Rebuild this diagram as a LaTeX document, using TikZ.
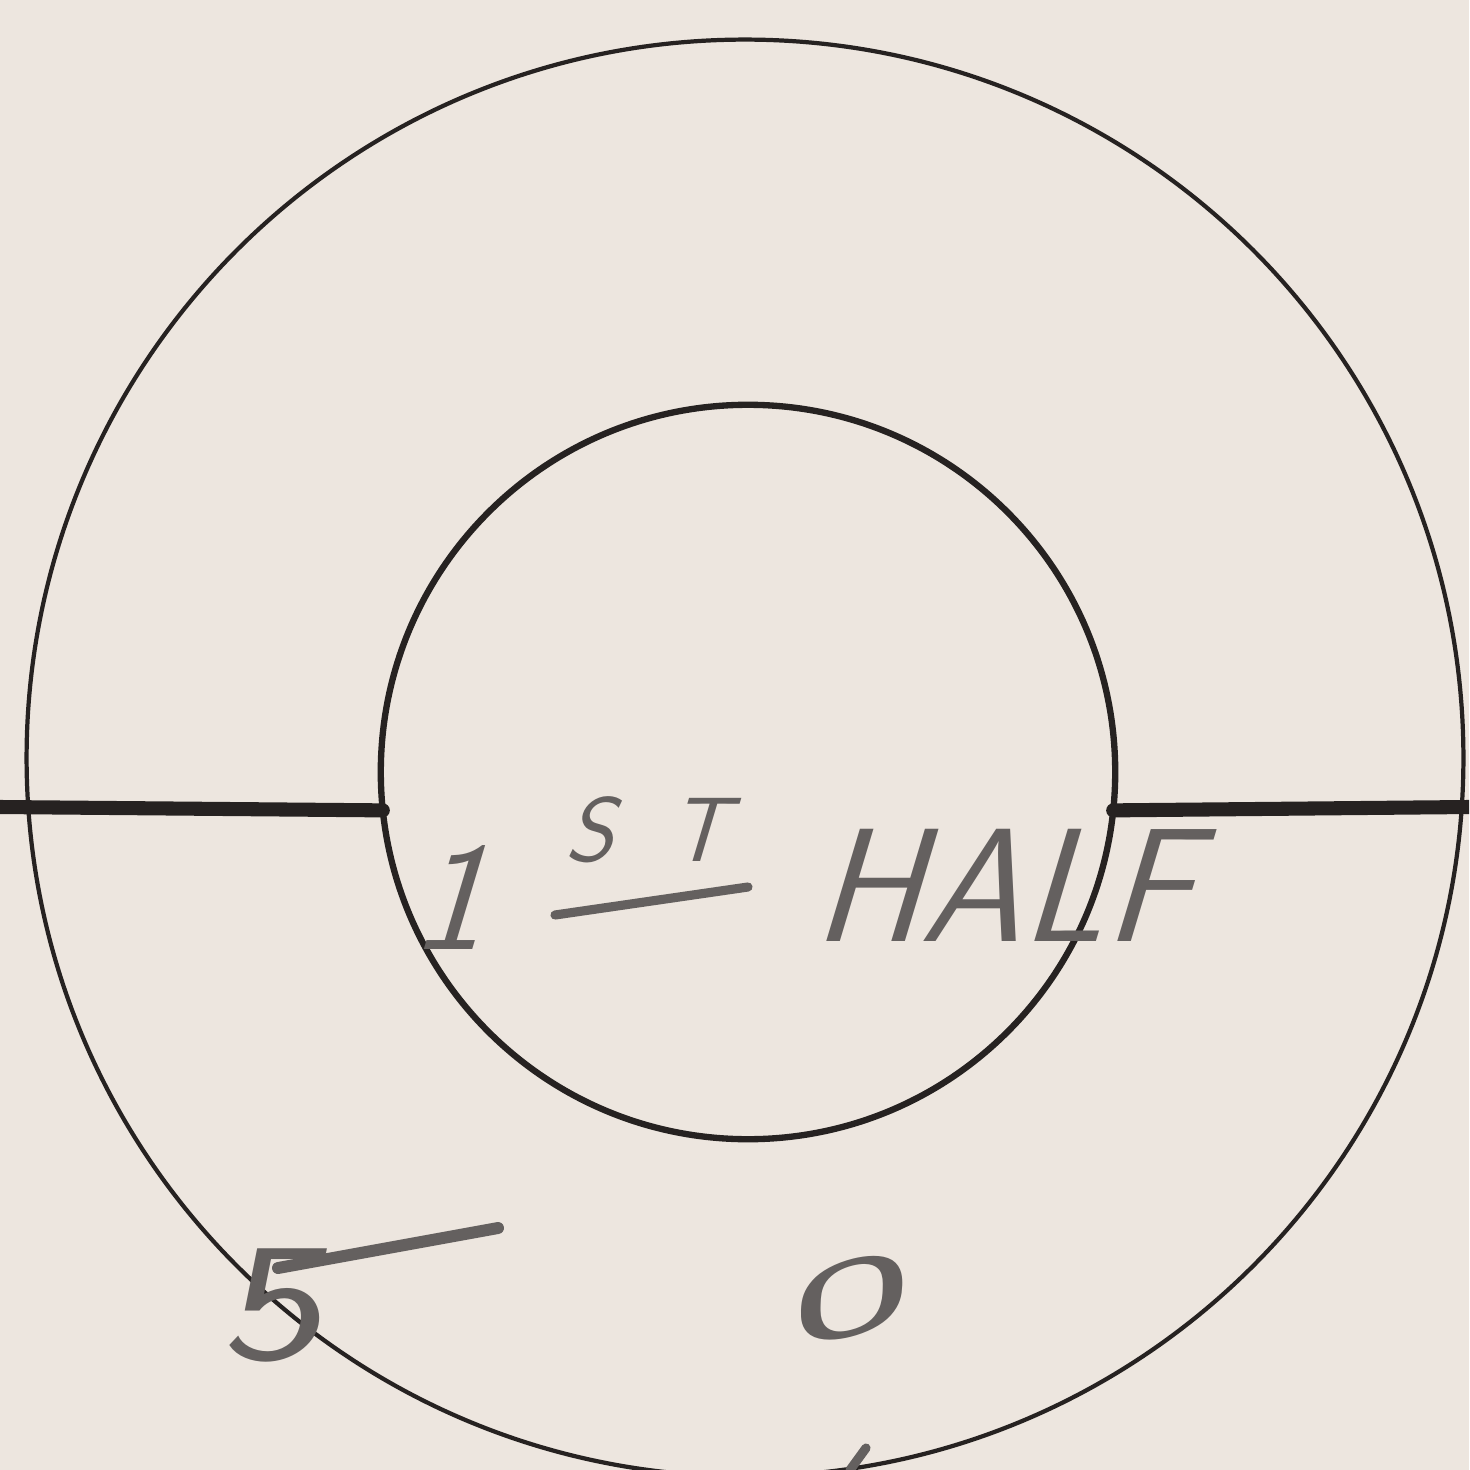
\documentclass[tikz,border=0pt]{standalone}
\usepackage{fontspec}
\usepackage{tikz}
\usetikzlibrary{calc,positioning}
\definecolor{paper}{RGB}{237,230,223}
\definecolor{ink}{RGB}{38,34,33}
\definecolor{lead}{RGB}{100,96,95}
\tikzset{
    ringline/.style={
        circle,
        draw=ink,
        inner sep=0pt,
        outer sep=0pt
    },
    % thick bar through the rings
    cutline/.style={
        line width=4pt,
        ink,
        line cap=round
    },
    pencil/.style={
        lead,
        inner sep=0pt,
        xslant=0.3
    },
    pencilstroke/.style={
        lead,
        line width=2.6pt,
        line cap=round
    }
}

\begin{document}
\begin{tikzpicture}[x=0.01cm,y=-0.01cm]
    \clip (0,0) rectangle (1469,1470);
    \fill[paper] (0,0) rectangle (1469,1470);

    \node[ringline, line width=1.2pt, minimum size=14.36cm] (outer) at (745,758) {};
    \node[ringline, line width=1.8pt, minimum size=7.34cm] (inner) at (748,772) {};

    \coordinate (lend) at (0,807);
    \coordinate (rend) at (1469,807);
    \draw[cutline] (lend) -- (inner.186);
    \draw[cutline] (inner.-6) -- (rend);

    \node[pencil, font=\sffamily\fontsize{44}{44}\selectfont] (one) at (462,898) {1};
    \node[pencil, font=\sffamily\fontsize{26}{26}\selectfont] (st) at (655,830) {S\kern0.6em T};
    \coordinate (ulA) at (555,915);
    \coordinate (ulB) at (748,887);
    \draw[pencilstroke] (ulA) -- (ulB);
    \node[pencil, font=\sffamily\fontsize{46}{46}\selectfont] (half) at (1018,885) {HALF};

    \node[pencil, xslant=-0.1, xscale=1.3, font=\sffamily\fontsize{48}{48}\selectfont] (five) at (282,1305) {5};
    \coordinate (fiveA) at (278,1268);
    \coordinate (fiveB) at (498,1228);
    \draw[pencilstroke, line width=3.4pt] (fiveA) -- (fiveB);
    \node[pencil, xslant=0, rotate=15, xscale=1.3, yscale=0.62, font=\sffamily\fontsize{54}{54}\selectfont] (zero) at (852,1298) {0};

    \coordinate (markA) at (850,1470);
    \coordinate (markB) at (866,1448);
    \draw[pencilstroke] (markA) -- (markB);
\end{tikzpicture}
\end{document}
